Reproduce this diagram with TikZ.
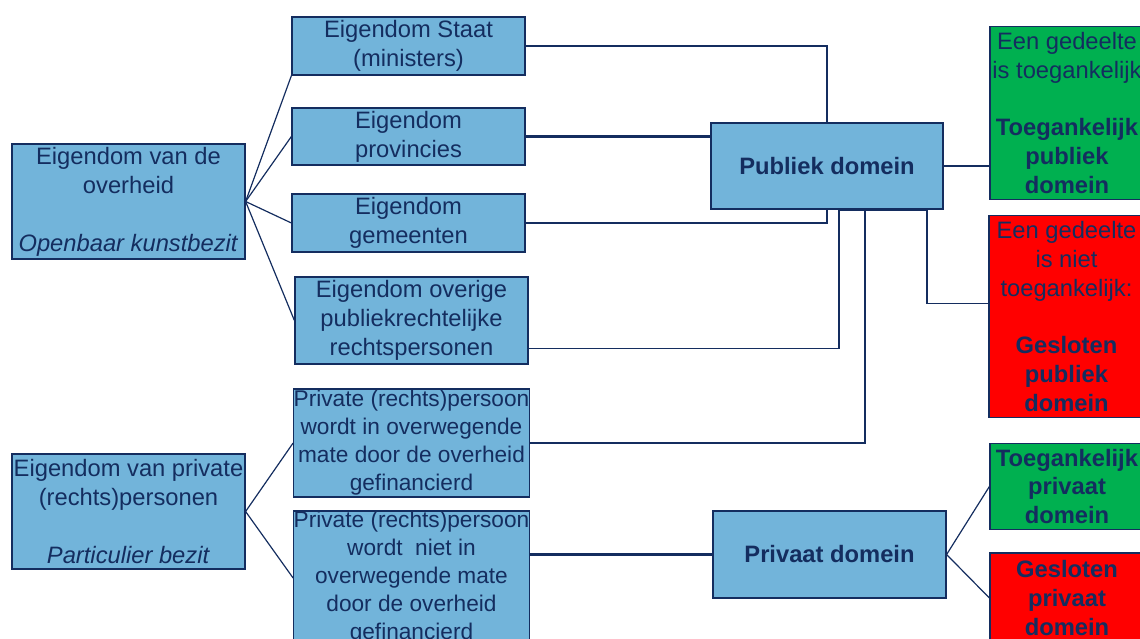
\documentclass[tikz,border=0pt]{standalone}
\usepackage{fontspec}
\setmainfont{Liberation Sans}
\usetikzlibrary{calc}
\definecolor{navy}{RGB}{20,45,95}
\definecolor{lblue}{RGB}{114,180,218}
\definecolor{grn}{RGB}{0,176,80}
\definecolor{rd}{RGB}{255,0,0}
\begin{document}
\begin{tikzpicture}[x=0.75pt,y=-0.75pt,
  box/.style={draw=navy, line width=0.9pt, fill=lblue, text=navy, inner sep=0pt, align=center,
    font=\fontsize{17.8}{21.7}\selectfont},
  sbox/.style={box, font=\fontsize{17}{21}\selectfont},
  dbox/.style={box, font=\fontsize{17.8}{21.7}\selectfont\bfseries},
  gbox/.style={box, fill=grn},
  rbox/.style={box, fill=rd},
  conn/.style={draw=navy, line width=0.9pt},
  tconn/.style={draw=navy, line width=1.6pt}]
\useasboundingbox (0,0) rectangle (1140,639);
\clip (0,0) rectangle (1140,639);
% left
\node[box, minimum width=174.75pt, minimum height=86.25pt] (ov) at (128.5,201.5)
  {Eigendom van de\\overheid\\ ~ \\\textit{Openbaar kunstbezit}};
\node[box, minimum width=174.75pt, minimum height=86.25pt] (pr) at (128.5,511.5)
  {Eigendom van private\\(rechts)personen\\ ~ \\\textit{Particulier bezit}};
% middle
\node[box, minimum width=174.75pt, minimum height=43.5pt] (staat) at (408.5,46)
  {Eigendom Staat\\(ministers)};
\node[box, minimum width=174.75pt, minimum height=42.75pt] (prov) at (408.5,136.5)
  {Eigendom\\provincies};
\node[box, minimum width=174.75pt, minimum height=43.5pt] (gem) at (408.5,223)
  {Eigendom\\gemeenten};
\node[box, minimum width=174.75pt, minimum height=65.25pt] (ovr) at (411.5,320.5)
  {Eigendom overige\\publiekrechtelijke\\rechtspersonen};
\node[sbox, minimum width=174.75pt, minimum height=81pt] (pv1) at (411.5,443)
  {Private (rechts)persoon\\wordt in overwegende\\mate door de overheid\\gefinancierd};
\node[sbox, minimum width=174.75pt, minimum height=100.5pt] (pv2) at (411.5,578)
  {Private (rechts)persoon\\wordt\ \ niet in\\overwegende mate\\door de overheid\\gefinancierd};
% domains
\node[dbox, minimum width=174pt, minimum height=64.5pt] (pub) at (827,166)
  {Publiek domein};
\node[dbox, minimum width=174.75pt, minimum height=65.25pt] (priv) at (829.5,554.5)
  {Privaat domein};
% right
\node[gbox, minimum width=115.5pt, minimum height=129.75pt] (g1) at (1067,113)
  {Een gedeelte\\is toegankelijk\\ ~ \\\textbf{Toegankelijk}\\\textbf{publiek}\\\textbf{domein}};
\node[rbox, minimum width=116.25pt, minimum height=151.5pt] (r1) at (1066.5,316.5)
  {Een gedeelte\\is niet\\toegankelijk:\\ ~ \\\textbf{Gesloten}\\\textbf{publiek}\\\textbf{domein}};
\node[gbox, minimum width=115.5pt, minimum height=64.5pt] (g2) at (1067,486.5)
  {\textbf{Toegankelijk}\\\textbf{privaat}\\\textbf{domein}};
\node[rbox, minimum width=115.5pt, minimum height=67.5pt] (r2) at (1067,598)
  {\textbf{Gesloten}\\\textbf{privaat}\\\textbf{domein}};
% connectors left
\draw[conn] (ov.east) -- (staat.south west);
\draw[conn] (ov.east) -- (prov.west);
\draw[conn] (ov.east) -- (gem.west);
\draw[conn] (ov.east) -- (ovr.west);
\draw[conn] (pr.east) -- (pv1.west);
\draw[conn] (pr.east) -- (pv2.west);
% connectors to publiek domein
\draw[conn] (staat.east) -| (pub.north);
\draw[tconn] (prov.east) -- (prov.east -| pub.west);
\draw[conn] (gem.east) -| (pub.south);
\coordinate (ovrout) at ($(ovr.south east)+(0,-16)$);
\coordinate (pubs2) at ($(pub.south)+(12,0)$);
\draw[conn] (ovrout) -| (pubs2);
\coordinate (pubs3) at ($(pub.south)+(38,0)$);
\draw[tconn] (pv1.east) -| (pubs3);
\coordinate (pubs4) at ($(pub.south)+(100,0)$);
\coordinate (r1in) at ($(r1.west)+(0,-13)$);
\draw[tconn] (pubs2) -- (pubs4);
\draw[conn] (pubs4) |- (r1in);
\draw[tconn] (pub.east) -- (pub.east -| g1.west);
% privaat
\draw[tconn] (priv.west -| pv2.east) -- (priv.west);
\draw[conn] (priv.east) -- (g2.west);
\draw[conn] (priv.east) -- (r2.west);
\end{tikzpicture}
\end{document}
